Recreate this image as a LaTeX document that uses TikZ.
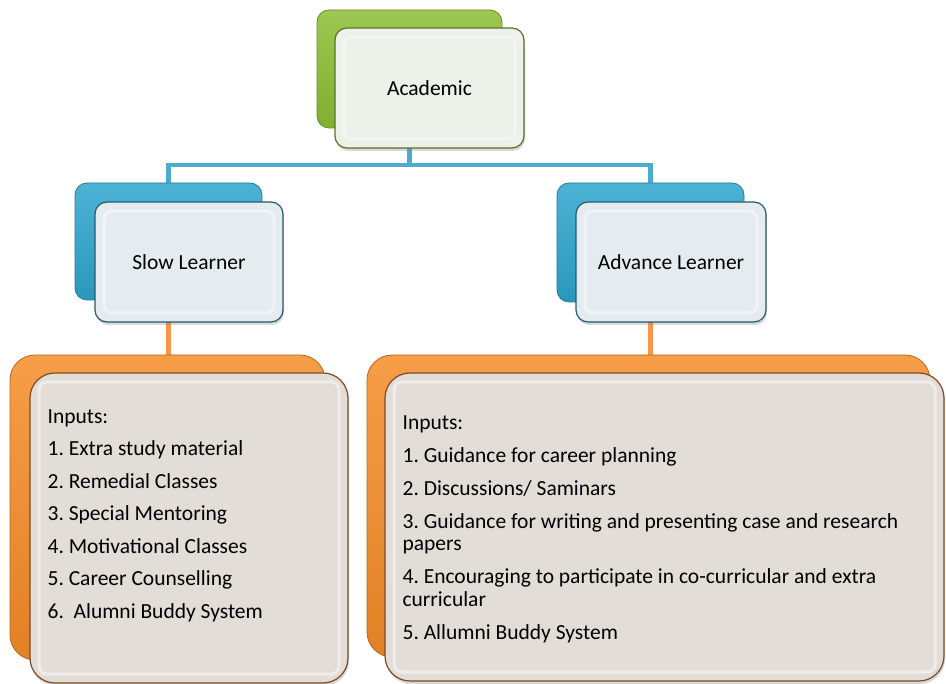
\documentclass[tikz,border=0pt]{standalone}
\usepackage{fontspec}
\setmainfont{Carlito}
\usetikzlibrary{positioning,shadows,backgrounds}

\definecolor{topgreen}{RGB}{140,190,50}
\definecolor{topedge}{RGB}{85,115,35}
\definecolor{topfill}{RGB}{238,240,234}
\definecolor{midblue}{RGB}{45,165,205}
\definecolor{midedge}{RGB}{35,90,110}
\definecolor{midfill}{RGB}{229,236,240}
\definecolor{loworange}{RGB}{245,140,40}
\definecolor{lowedge}{RGB}{125,75,35}
\definecolor{lowfill}{RGB}{227,221,215}
\definecolor{busblue}{RGB}{75,172,205}
\definecolor{busorange}{RGB}{247,150,70}

\tikzset{
  backbox/.style={draw=#1!75!black, line width=0.8pt, rounded corners=12pt,
    top color=#1!85!white, bottom color=#1!92!black},
  frontbox/.style 2 args={draw=#1, fill=#2, line width=1.2pt, rounded corners=12pt,
    drop shadow={shadow xshift=1pt, shadow yshift=-3pt, opacity=0.3},
    path picture={\draw[white, opacity=0.45, line width=3pt, rounded corners=8pt]
      ([shift={(9pt,9pt)}]path picture bounding box.south west) rectangle
      ([shift={(-9pt,-9pt)}]path picture bounding box.north east);}},
  blueline/.style={draw=busblue, line width=4.5pt},
  orangeline/.style={draw=busorange, line width=4.5pt},
  inputlist/.style={align=left, anchor=north west}
}

\begin{document}
\begin{tikzpicture}[x=1pt, y=-1pt, inner sep=0pt,
  font=\fontsize{21.5}{22.5}\selectfont\frenchspacing]
\useasboundingbox (0,0) rectangle (946,684);

% top box
\node[backbox=topgreen, minimum width=185pt, minimum height=118pt] (acadback) at (409.5,69) {};
\node[frontbox={topedge}{topfill}, minimum width=189pt, minimum height=120pt] (acad) at (429.5,88) {Academic};

% second row
\node[backbox=midblue, minimum width=187pt, minimum height=117pt] (slowback) at (168.5,241.5) {};
\node[frontbox={midedge}{midfill}, minimum width=188pt, minimum height=120pt] (slow) at (189,262) {Slow Learner};
\node[backbox=midblue, minimum width=187pt, minimum height=119pt] (advback) at (650.5,242.5) {};
\node[frontbox={midedge}{midfill}, minimum width=190pt, minimum height=120pt] (adv) at (671,262) {Advance Learner};

% inputs
\node[backbox=loworange, rounded corners=25pt, minimum width=315pt, minimum height=305pt] (slowinback) at (167.5,507.5) {};
\node[frontbox={lowedge}{lowfill}, rounded corners=25pt, minimum width=318pt, minimum height=310pt] (slowin) at (189,528) {};
\node[inputlist, below right=37pt and 18pt of slowin.north west] (slowtxt) {%
  Inputs:\\[10pt]
  1. Extra study material\\[10pt]
  2. Remedial Classes\\[10pt]
  3. Special Mentoring\\[10pt]
  4. Motivational Classes\\[10pt]
  5. Career Counselling\\[10pt]
  6.\ \ Alumni Buddy System};

\node[backbox=loworange, rounded corners=25pt, minimum width=563pt, minimum height=302pt] (advinback) at (648.5,506) {};
\node[frontbox={lowedge}{lowfill}, rounded corners=25pt, minimum width=559pt, minimum height=308pt] (advin) at (664.5,527) {};
\node[inputlist, below right=43pt and 18pt of advin.north west] (advtxt) {%
  Inputs:\\[10.5pt]
  1. Guidance for career planning\\[10.5pt]
  2. Discussions/ Saminars\\[10.5pt]
  3. Guidance for writing and presenting case and research\\
  papers\\[10.5pt]
  4. Encouraging to participate in co-curricular and extra\\
  curricular\\[10.5pt]
  5. Allumni Buddy System};

% connectors
\begin{scope}[on background layer]
\coordinate (bus) at (acadback.south |- 0,165);
\draw[blueline] (acadback.south) -- (bus) -| (slowback.north);
\draw[blueline] (bus) -| (advback.north);
\draw[orangeline] (slowback.south) -- (slowback.south |- slowinback.north);
\draw[orangeline] (advback.south) -- (advback.south |- advinback.north);
\end{scope}
\end{tikzpicture}
\end{document}
